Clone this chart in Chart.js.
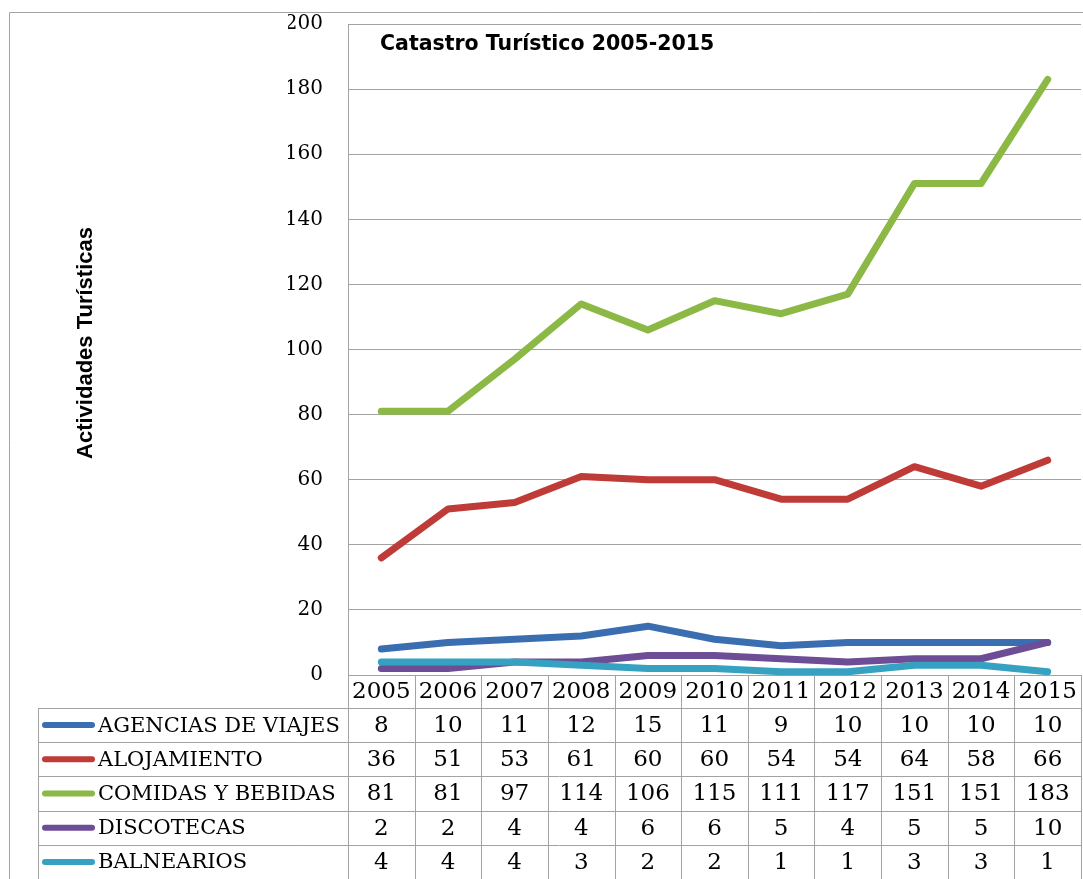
<!DOCTYPE html>
<html>
<head>
<meta charset="utf-8">
<script src="https://cdn.jsdelivr.net/npm/chart.js@4/dist/chart.umd.min.js"></script>
<style>
  html, body { margin: 0; padding: 0; background: #fff; }
  canvas { display: block; }
</style>
</head>
<body>
<canvas id="catastro-chart" width="1083" height="879"></canvas>
<script>
const years = ["2005", "2006", "2007", "2008", "2009", "2010", "2011", "2012", "2013", "2014", "2015"];
const agencias = [8, 10, 11, 12, 15, 11, 9, 10, 10, 10, 10];
const alojamiento = [36, 51, 53, 61, 60, 60, 54, 54, 64, 58, 66];
const comidas = [81, 81, 97, 114, 106, 115, 111, 117, 151, 151, 183];
const discotecas = [2, 2, 4, 4, 6, 6, 5, 4, 5, 5, 10];
const balnearios = [4, 4, 4, 3, 2, 2, 1, 1, 3, 3, 1];
const seriesNames = ["AGENCIAS DE VIAJES", "ALOJAMIENTO", "COMIDAS Y BEBIDAS", "DISCOTECAS", "BALNEARIOS"];
const yTicks = [0, 20, 40, 60, 80, 100, 120, 140, 160, 180, 200];

const chartTitle = "Catastro Turístico 2005-2015";
const yTitle = "Actividades Turísticas";

const colors = ["#3b6db1", "#be3b37", "#8cb845", "#6d4d95", "#37a1c1"];
const seriesData = [agencias, alojamiento, comidas, discotecas, balnearios];
const gridColor = "#a3a3a3";
const serif = "'DejaVu Serif', serif";

// dibuja marco, titulos y la tabla de datos bajo el eje
const tablePlugin = {
  id: "tablePlugin",
  afterDraw(chart) {
    const ctx = chart.ctx;
    const area = chart.chartArea;
    const x = chart.scales.x;
    const colW = (area.right - area.left) / years.length;
    const headerTop = area.bottom;
    const headerH = 33;
    const rowH = 34.2;
    const legendLeft = 38;
    const bottom = chart.height;

    ctx.save();
    ctx.strokeStyle = gridColor;
    ctx.lineWidth = 1;

    // marco exterior
    ctx.beginPath();
    ctx.moveTo(9.5, bottom);
    ctx.lineTo(9.5, 12.5);
    ctx.lineTo(chart.width, 12.5);
    ctx.stroke();

    // lineas de la tabla
    ctx.beginPath();
    ctx.moveTo(area.left, headerTop + headerH + 0.5);
    ctx.lineTo(area.right, headerTop + headerH + 0.5);
    for (let r = 0; r <= seriesNames.length; r++) {
      const y = Math.round(headerTop + headerH + r * rowH) + 0.5;
      ctx.moveTo(legendLeft, y);
      ctx.lineTo(area.right, y);
    }
    for (let c = 0; c <= years.length; c++) {
      const cx = Math.round(area.left + c * colW) + 0.5;
      ctx.moveTo(cx, headerTop);
      ctx.lineTo(cx, bottom);
    }
    ctx.moveTo(legendLeft + 0.5, headerTop + headerH);
    ctx.lineTo(legendLeft + 0.5, bottom);
    ctx.stroke();

    // encabezado de años
    ctx.fillStyle = "#000";
    ctx.font = "23px " + serif;
    ctx.textAlign = "center";
    ctx.textBaseline = "middle";
    years.forEach((yr, i) => {
      ctx.fillText(yr, x.getPixelForValue(i), headerTop + headerH / 2 + 1);
    });

    // filas con leyenda y valores
    seriesNames.forEach((name, r) => {
      const cy = headerTop + headerH + r * rowH + rowH / 2;
      ctx.strokeStyle = colors[r];
      ctx.lineWidth = 6;
      ctx.lineCap = "round";
      ctx.beginPath();
      ctx.moveTo(45, cy);
      ctx.lineTo(92, cy);
      ctx.stroke();

      ctx.textAlign = "left";
      ctx.font = "21px " + serif;
      ctx.fillText(name, 98, cy + 1);
      ctx.textAlign = "center";
      ctx.font = "23px " + serif;
      seriesData[r].forEach((v, i) => {
        ctx.fillText(String(v), x.getPixelForValue(i), cy + 1);
      });
    });

    // titulo del grafico
    ctx.textAlign = "left";
    ctx.textBaseline = "alphabetic";
    ctx.font = "bold 20.5px 'DejaVu Sans', sans-serif";
    ctx.fillText(chartTitle, 380, 50);

    // titulo del eje Y
    ctx.translate(92, 343);
    ctx.rotate(-Math.PI / 2);
    ctx.textAlign = "center";
    ctx.font = "bold 22px 'Liberation Sans', Arial, sans-serif";
    ctx.fillText(yTitle, 0, 0);
    ctx.restore();
  },
};

new Chart(document.getElementById("catastro-chart"), {
  type: "line",
  data: {
    labels: years,
    datasets: seriesNames.map((name, i) => ({
      label: name,
      data: seriesData[i],
      borderColor: colors[i],
      backgroundColor: colors[i],
      borderWidth: 7,
      pointRadius: 0,
      tension: 0,
      borderCapStyle: "round",
      borderJoinStyle: "round",
      order: seriesNames.length - 1 - i,
      clip: false,
    })),
  },
  options: {
    responsive: false,
    animation: false,
    layout: { padding: { left: 288, right: 2, top: 24, bottom: 204 } },
    plugins: {
      legend: { display: false },
      tooltip: { enabled: false },
      title: { display: false },
    },
    scales: {
      x: {
        type: "category",
        offset: true,
        display: false,
      },
      y: {
        min: 0,
        max: 200,
        afterBuildTicks(scale) {
          scale.ticks = yTicks.map((v) => ({ value: v }));
        },
        afterFit(scale) {
          scale.width = 60;
        },
        ticks: {
          color: "#000",
          font: { family: serif, size: 20 },
          padding: 2,
        },
        grid: {
          color: gridColor,
          drawTicks: true,
          tickLength: 23,
          tickColor: "rgba(0,0,0,0)",
        },
        border: { display: true, color: gridColor },
      },
    },
  },
  plugins: [tablePlugin],
});
</script>
</body>
</html>
